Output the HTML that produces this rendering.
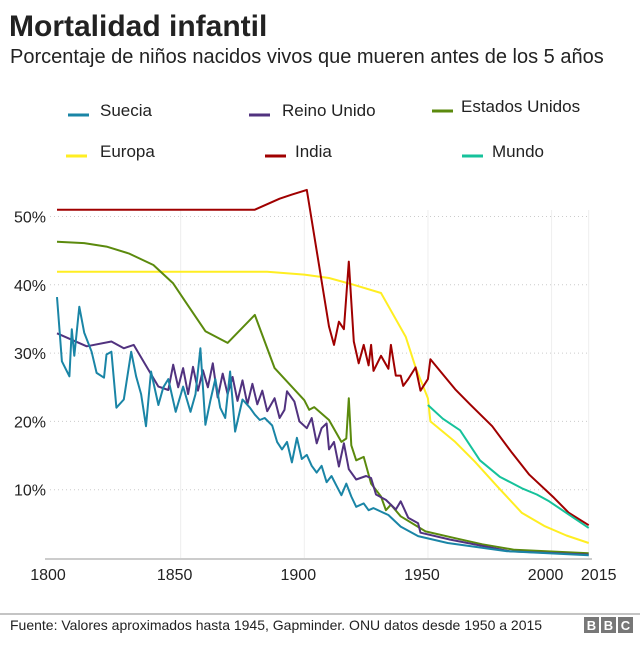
<!DOCTYPE html>
<html><head><meta charset="utf-8"><style>
body{margin:0;background:#fff;width:640px;height:647px;overflow:hidden;font-family:"Liberation Sans",sans-serif;}
</style></head><body>
<svg id="c" width="640" height="647" xmlns="http://www.w3.org/2000/svg" font-family="Liberation Sans, sans-serif">
<text x="9" y="36" font-size="30" font-weight="bold" fill="#222">Mortalidad infantil</text>
<text x="10" y="63" font-size="20" fill="#222">Porcentaje de niños nacidos vivos que mueren antes de los 5 años</text>
<g id="grid"></g><g id="lines"></g><g id="legend"></g>
<line x1="0" y1="614" x2="640" y2="614" stroke="#888" stroke-width="1"/>
<text x="10" y="630" font-size="14" fill="#222">Fuente: Valores aproximados hasta 1945, Gapminder. ONU datos desde 1950 a 2015</text>
<g>
<rect x="584" y="617" width="15" height="16" fill="#777"/><rect x="601" y="617" width="15" height="16" fill="#777"/><rect x="618" y="617" width="15" height="16" fill="#777"/>
<text x="591.5" y="630" font-size="13" font-weight="bold" fill="#fff" text-anchor="middle">B</text>
<text x="608.5" y="630" font-size="13" font-weight="bold" fill="#fff" text-anchor="middle">B</text>
<text x="625.5" y="630" font-size="13" font-weight="bold" fill="#fff" text-anchor="middle">C</text>
</g>
</svg>
<script>
const yTicks=[10,20,30,40,50];
const xTicks=[1800,1850,1900,1950,2000,2015];
const seriesNames=["Suecia","Reino Unido","Estados Unidos","Europa","India","Mundo"];
const seriesColors=["#1a85a6","#51327f","#5b8a0d","#ffee22","#a00000","#16c29b"];
const sueciaYears=[1800,1802,1805,1806,1807,1809,1811,1814,1816,1819,1820,1822,1824,1827,1830,1832,1834,1836,1838,1841,1843,1845,1848,1851,1854,1856,1858,1860,1862,1864,1866,1868,1870,1872,1875,1878,1880,1882,1884,1887,1889,1891,1893,1895,1897,1899,1901,1903,1905,1907,1909,1911,1913,1915,1917,1919,1921,1924,1926,1928,1931,1934,1939,1946,1958,1982,2015];
const sueciaValues=[38.2,28.8,26.6,33.5,29.6,36.8,33,30.2,27.1,26.4,29.8,30.2,22,23.2,30.2,26.6,24,19.3,27.3,22.4,25,26.2,21.4,25.1,21.4,24,30.7,19.5,23,26.2,22,20.5,27.3,18.5,23.2,22,21,20.2,20.5,19.4,17,15.9,17,14,17.6,14.5,15.1,13.5,12.5,13.5,11.1,12,10.6,9.2,10.9,9,7.5,8,7,7.3,6.8,6.3,4.6,3.2,2.2,1,0.4];
const ukYears=[1800,1812,1822,1827,1831,1841,1845,1847,1849,1851,1853,1855,1857,1859,1861,1863,1865,1867,1869,1871,1873,1875,1877,1879,1881,1883,1885,1888,1890,1892,1893,1896,1898,1901,1903,1905,1907,1909,1910,1912,1914,1916,1918,1921,1925,1927,1929,1933,1937,1939,1942,1946,1947,1959,1983,2015];
const ukValues=[32.9,31,31.7,30.7,31.2,25.1,24.6,28.3,25,27.8,24,28,24.5,27.5,25,28.5,23.5,27,24,26.5,23,26,22.5,25.5,22.5,24.5,21.5,23.4,20.5,21.7,24.4,22.9,20,19,20.5,16.8,19,19.7,15.9,17,13.4,16.8,13,11.5,12,11.7,9.3,8.5,7.1,8.3,5.9,5.1,3.7,2.7,1,0.5];
const usYears=[1800,1811,1820,1829,1839,1847,1852,1860,1869,1880,1888,1900,1902,1904,1910,1915,1917,1918,1919,1921,1924,1927,1931,1933,1935,1939,1949,1961,1972,1985,2015];
const usValues=[46.3,46.1,45.6,44.6,42.9,40.2,37.5,33.2,31.5,35.6,27.8,23.1,21.7,22.1,20.2,17,17.5,23.4,16.5,14.3,14.8,10.9,9,7,7.8,6.1,3.9,2.9,2,1.2,0.7];
const euYears=[1800,1885,1900,1910,1920,1931,1941,1945,1950,1951,1961,1969,1978,1988,1997,2006,2015];
const euValues=[41.9,41.9,41.5,41,40,38.8,32.4,27.9,23.4,20,17,14.1,10.5,6.6,4.7,3.3,2.2];
const indiaYears=[1800,1880,1885,1890,1895,1901,1910,1912,1914,1916,1918,1920,1922,1924,1926,1927,1928,1931,1934,1935,1937,1939,1940,1942,1945,1947,1950,1951,1961,1967,1976,1984,1991,2001,2007,2015];
const indiaValues=[51,51,51.8,52.6,53.2,53.9,33.9,31.2,34.6,33.5,43.4,31.7,28.5,31.2,28.2,31.2,27.4,29.6,27.7,31.2,26.7,26.7,25.2,26.2,27.9,24.5,26.2,29.1,24.7,22.5,19.3,15.4,12.2,8.8,6.6,4.8];
const mundoYears=[1950,1956,1963,1971,1979,1988,1994,1999,2006,2015];
const mundoValues=[22.4,20.4,18.7,14.3,11.9,10.2,9.3,8.3,6.6,4.4];

const NS="http://www.w3.org/2000/svg";
const x=yr=>57+(yr-1800)*2.473;
const y=v=>558-v*6.83;
function mk(tag,attrs,parent){const e=document.createElementNS(NS,tag);for(const k in attrs)e.setAttribute(k,attrs[k]);parent.appendChild(e);return e;}
const grid=document.getElementById('grid'),lines=document.getElementById('lines'),legend=document.getElementById('legend');
yTicks.forEach(t=>{
 const l=mk('line',{x1:50,x2:590,y1:y(t),y2:y(t),stroke:'#ccc','stroke-dasharray':'1 3'},grid);
 
 
 const tx=mk('text',{x:46,y:y(t)+6,'font-size':16,'text-anchor':'end',fill:'#222'},grid);
 tx.textContent=t+'%';
 
 
});
xTicks.forEach((t,i)=>{
 if(i>0){const l=mk('line',{x1:x(t),x2:x(t),y1:210,y2:558,stroke:'#eee'},grid);
 
 }
 const off=t===2015?10:(t===1800?-9:-6);
 const tx=mk('text',{x:x(t)+off,y:580,'font-size':16,'text-anchor':'middle',fill:'#222'},grid);
 tx.textContent=t;
 
 
});
const ax=mk('line',{x1:45,x2:592,y1:559,y2:559,stroke:'#ccc','stroke-width':2},grid);


const data=[[sueciaYears,sueciaValues],[ukYears,ukValues],[usYears,usValues],[euYears,euValues],[indiaYears,indiaValues],[mundoYears,mundoValues]];
const order=[3,2,1,0,4,5];
order.forEach(i=>{
 const [ys,vs]=data[i];
 const p=mk('polyline',{points:ys.map((yr,j)=>x(yr).toFixed(1)+','+y(vs[j]).toFixed(1)).join(' '),fill:'none',stroke:seriesColors[i],'stroke-width':2,'stroke-linejoin':'round'},lines);
 
 
});
const legPos=[[68,100,111],[249,282,111],[432,461,107],[66,100,152],[265,295,152],[462,492,152]];
seriesNames.forEach((n,i)=>{
 const [sx,tx,ly]=legPos[i];
 const g=mk('g',{},legend);
 
 
 mk('line',{x1:sx,x2:sx+21,y1:ly+4,y2:ly+4,stroke:seriesColors[i],'stroke-width':3},g);
 const t=mk('text',{x:tx,y:ly+5,'font-size':17,fill:'#222'},g);
 t.textContent=n;
});
</script>
</body></html>
